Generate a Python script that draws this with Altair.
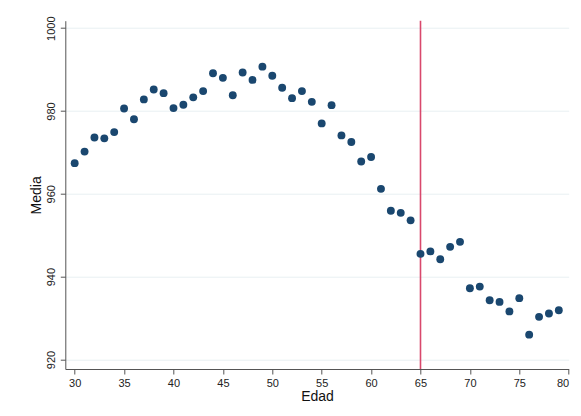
import altair as alt
import pandas as pd

edad = list(range(30, 80))
media = [
    967.4, 970.2, 973.6, 973.4, 974.9, 980.6, 978.0, 982.8, 985.2, 984.3,
    980.7, 981.5, 983.3, 984.8, 989.1, 988.0, 983.8, 989.3, 987.5, 990.7,
    988.5, 985.6, 983.1, 984.8, 982.2, 977.0, 981.4, 974.1, 972.5, 967.8,
    968.9, 961.2, 955.9, 955.4, 953.6, 945.5, 946.1, 944.2, 947.2, 948.4,
    937.2, 937.6, 934.3, 933.9, 931.6, 934.8, 926.0, 930.3, 931.1, 931.9,
]
x_ticks = [30, 35, 40, 45, 50, 55, 60, 65, 70, 75, 80]
y_ticks = [920, 940, 960, 980, 1000]
corte = [65]

df = pd.DataFrame({"Edad": edad, "Media": media})
df_rule = pd.DataFrame({"corte": corte})

FONT = "Liberation Sans"

x_scale = alt.Scale(domain=[29.05, 80], nice=False, zero=False)
y_scale = alt.Scale(domain=[917.7, 1001.8], nice=False, zero=False)

points = alt.Chart(df).mark_circle(size=62, opacity=1, color="#1a476f").encode(
    x=alt.X(
        "Edad:Q",
        scale=x_scale,
        axis=alt.Axis(
            title="Edad",
            values=x_ticks,
            format="d",
            grid=False,
            tickSize=5,
            labelPadding=3,
            labelFontSize=11,
            titleFontSize=14,
            titlePadding=1,
        ),
    ),
    y=alt.Y(
        "Media:Q",
        scale=y_scale,
        axis=alt.Axis(
            title="Media",
            values=y_ticks,
            format="d",
            grid=True,
            gridColor="#e8f0f2",
            gridWidth=1,
            tickSize=5,
            labelAngle=-90,
            labelAlign="center",
            labelBaseline="bottom",
            labelPadding=4,
            labelFontSize=11,
            titleFontSize=14,
            titlePadding=2,
        ),
    ),
)

rule = alt.Chart(df_rule).mark_rule(color="#d9486c", strokeWidth=1.6).encode(
    x=alt.X("corte:Q", scale=x_scale)
)

chart = (
    alt.layer(rule, points)
    .properties(
        width=503.4,
        height=348.3,
        padding={"left": 57.3, "top": 12.7, "right": 4.3, "bottom": 34},
        autosize=alt.AutoSizeParams(type="none"),
        background="white",
    )
    .configure_view(stroke=None)
    .configure_axis(
        domainColor="#555555",
        tickColor="#555555",
        labelColor="#222222",
        titleColor="#111111",
        labelFont=FONT,
        titleFont=FONT,
        titleFontWeight="normal",
        domainWidth=1,
        tickWidth=1,
    )
)

chart.save("out.html", embed_options={"renderer": "svg", "actions": False})
